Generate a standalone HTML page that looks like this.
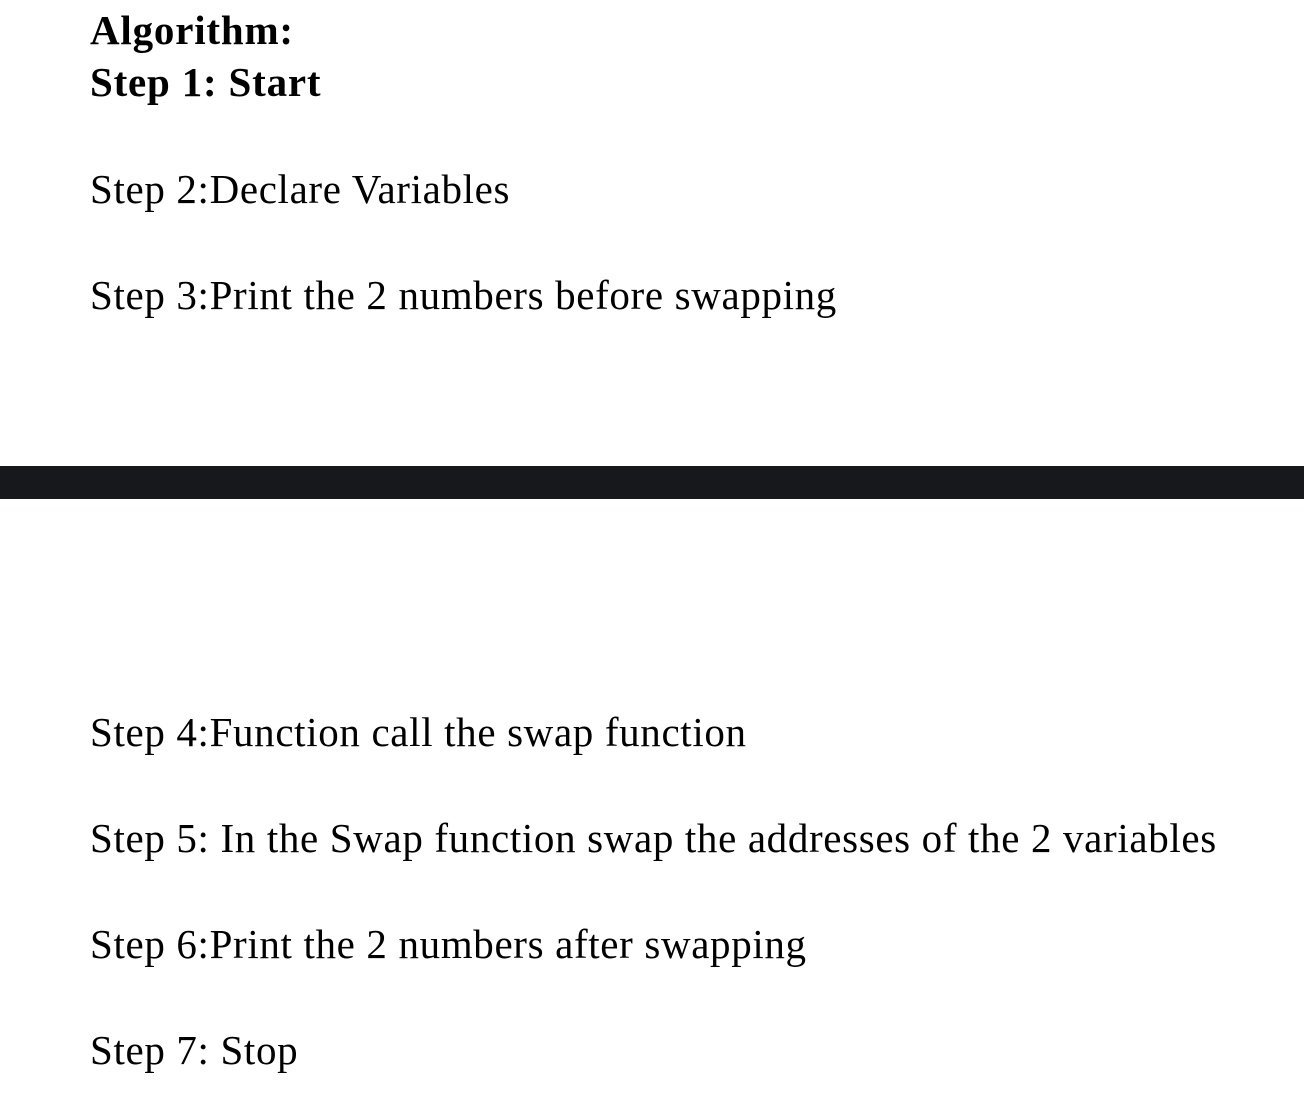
<!DOCTYPE html>
<html><head><meta charset="utf-8"><style>
html,body{margin:0;padding:0;background:#fff;width:1304px;height:1094px;overflow:hidden;position:relative}
.t{position:absolute;left:90px;font-family:"Liberation Serif",serif;font-size:41px;letter-spacing:0.65px;line-height:1;color:#000;white-space:nowrap}
.b{font-weight:bold;letter-spacing:0.8px}
.bar{position:absolute;left:0;top:466px;width:1304px;height:33px;background:#17181b}
</style></head><body>
<div class="t b" style="top:10px">Algorithm:</div>
<div class="t b" style="top:62px">Step 1: Start</div>
<div class="t" style="top:169px">Step 2:Declare Variables</div>
<div class="t" style="top:275px">Step 3:Print the 2 numbers before swapping</div>
<div class="bar"></div>
<div class="t" style="top:712px">Step 4:Function call the swap function</div>
<div class="t" style="top:818px">Step 5: In the Swap function swap the addresses of the 2 variables</div>
<div class="t" style="top:924px">Step 6:Print the 2 numbers after swapping</div>
<div class="t" style="top:1030px">Step 7: Stop</div>
</body></html>
